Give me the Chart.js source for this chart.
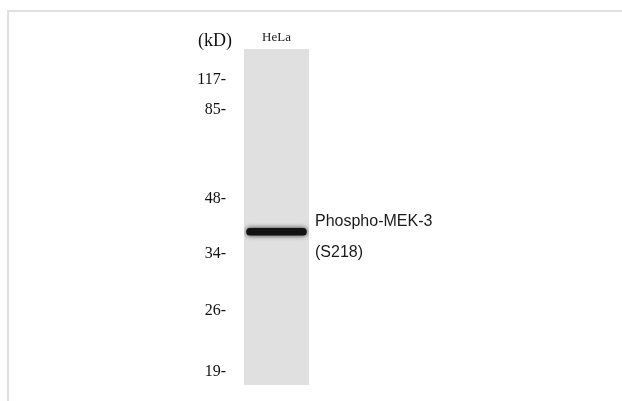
<!DOCTYPE html>
<html>
<head>
<meta charset="utf-8">
<script src="https://cdn.jsdelivr.net/npm/chart.js@4"></script>
<style>
  html, body { margin: 0; padding: 0; background: #fff; }
  #wrap { position: relative; width: 622px; height: 401px; overflow: hidden; }
  #frame { position: absolute; left: 7px; top: 10px; right: -5px; bottom: -5px;
           border-left: 2px solid #e0e0e0; border-top: 2px solid #e0e0e0; }
  canvas { position: absolute; left: 0; top: 0; }
</style>
</head>
<body>
<div id="wrap">
  <div id="frame"></div>
  <canvas id="c" width="622" height="401"></canvas>
</div>
<script>
// ---- data read from the blot ----
const lanes = ['HeLa'];
const markerKD = [117, 85, 48, 34, 26, 19];               // ladder labels (kD)
const markerRf = [0.092, 0.182, 0.446, 0.610, 0.780, 0.961]; // relative migration (0 = top of lane)
const laneSpan = [[0, 1]];                                  // whole lane
const bandSpan = [[0.533, 0.555]];                          // detected band (~39 kD)
const bandLabel = ['Phospho-MEK-3', '(S218)'];
const unitLabel = '(kD)';

const overlay = {
  id: 'overlay',
  beforeDatasetDraw(chart, args) {
    if (args.index === 0) {
      const ctx = chart.ctx;
      ctx.save();
      ctx.shadowColor = 'rgba(0,0,0,0.8)';
      ctx.shadowBlur = 5;
    }
  },
  afterDatasetDraw(chart, args) {
    if (args.index === 0) chart.ctx.restore();
  },
  afterDraw(chart) {
    const ctx = chart.ctx, a = chart.chartArea, y = chart.scales.y;
    ctx.save();
    ctx.fillStyle = '#111';
    ctx.font = '18px "Liberation Serif", serif';
    ctx.textAlign = 'right';
    ctx.textBaseline = 'middle';
    ctx.fillText(unitLabel, a.left - 12, a.top - 8);
    const bandY = y.getPixelForValue((bandSpan[0][0] + bandSpan[0][1]) / 2);
    ctx.font = '16px "Liberation Sans", Arial, sans-serif';
    ctx.textAlign = 'left';
    ctx.fillStyle = '#1a1a1a';
    ctx.fillText(bandLabel[0], a.right + 6, bandY - 10);
    ctx.fillText(bandLabel[1], a.right + 6, bandY + 21);
    ctx.restore();
  }
};

new Chart(document.getElementById('c'), {
  type: 'bar',
  data: {
    labels: lanes,
    datasets: [
      { data: bandSpan, backgroundColor: '#121212', barPercentage: 0.93, categoryPercentage: 1,
        grouped: false, borderSkipped: false, borderWidth: 0, borderRadius: 3.5 },
      { data: laneSpan, backgroundColor: '#e0e0e0', barPercentage: 1, categoryPercentage: 1,
        grouped: false, borderSkipped: false, borderWidth: 0 }
    ]
  },
  options: {
    responsive: false,
    animation: false,
    devicePixelRatio: 1,
    layout: { padding: { left: 0, top: 0, right: 313, bottom: 16 } },
    plugins: { legend: { display: false }, tooltip: { enabled: false } },
    scales: {
      x: {
        position: 'top',
        grid: { display: false, drawTicks: false },
        border: { display: false },
        ticks: { color: '#222', font: { family: '"Liberation Serif", serif', size: 13 }, padding: 4 },
        afterFit(s) { s.height = 49; }
      },
      y: {
        type: 'linear',
        reverse: true,
        min: 0, max: 1,
        grid: { display: false, drawTicks: false },
        border: { display: false },
        afterBuildTicks(s) { s.ticks = markerRf.map(v => ({ value: v })); },
        ticks: {
          color: '#111',
          padding: 18,
          font: { family: '"Liberation Serif", serif', size: 16 },
          callback: (v, i) => markerKD[i] + '-'
        },
        afterFit(s) { s.width = 244; s.paddingTop = 0; s.paddingBottom = 0; }
      }
    }
  },
  plugins: [overlay]
});
</script>
</body>
</html>
